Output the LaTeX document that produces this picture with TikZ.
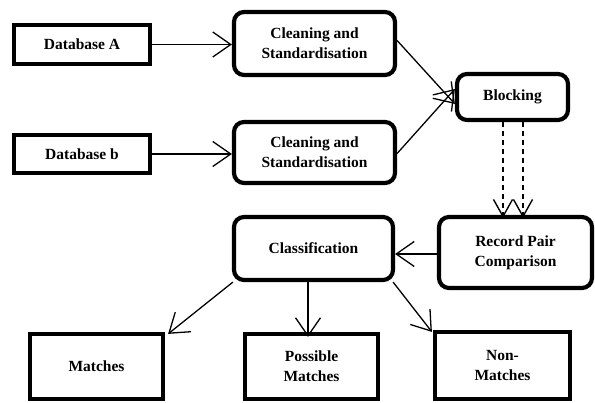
\documentclass[tikz,border=0pt]{standalone}
\usepackage{fontspec}
\setmainfont{Liberation Serif}
\usetikzlibrary{arrows.meta,calc}

\tikzset{
  base/.style={draw=black, line width=4.2pt, align=center, inner sep=0pt,
    font=\fontsize{15.5}{20}\selectfont\bfseries},
  sqbox/.style={base, rectangle},
  rbox/.style={base, rectangle, rounded corners=10pt},
  link/.style={line width=1.3pt,
    -{Straight Barb[length=18pt,width=25pt,line width=1.3pt]}},
  dlink/.style={line width=1.4pt, dash pattern=on 5pt off 4pt,
    -{Straight Barb[length=17pt,width=19pt,line width=1.4pt]}}
}

\begin{document}
\begin{tikzpicture}[x=1pt,y=-1pt]
\useasboundingbox (0,0) rectangle (595,403);

% inputs
\node[sqbox, minimum width=136pt, minimum height=39pt] (dbA) at (82,44.5) {Database A};
\node[sqbox, minimum width=136pt, minimum height=38pt] (dbB) at (82,154) {Database b};

% cleaning
\node[rbox, minimum width=161pt, minimum height=63pt] (cleanA) at (314.5,43.5) {Cleaning and\\Standardisation};
\node[rbox, minimum width=161pt, minimum height=61pt] (cleanB) at (314.5,152.5) {Cleaning and\\Standardisation};

% blocking and comparison
\node[rbox, minimum width=111pt, minimum height=46pt] (block) at (512.5,97) {Blocking};
\node[rbox, minimum width=153pt, minimum height=71pt] (record) at (515.5,252.5) {Record Pair\\Comparison};

% classification
\node[rbox, minimum width=159pt, minimum height=63pt] (classif) at (313.5,248.5) {Classification};

% outcomes
\node[sqbox, minimum width=133pt, minimum height=65pt] (match) at (96.5,366.5) {Matches};
\node[sqbox, minimum width=133pt, minimum height=65pt] (poss) at (311.5,366.5) {Possible\\Matches};
\node[sqbox, minimum width=135pt, minimum height=67pt] (non) at (502.5,365.5) {Non-\\Matches};

% connectors
\draw[link] (dbA.east) -- (dbA.east -| cleanA.west);
\draw[link] (dbB.east) -- (dbB.east -| cleanB.west);
\draw[link] ([yshift=3pt]cleanA.east) -- ([yshift=-7pt]block.west);
\draw[link] ([yshift=-1pt]cleanB.east) -- ([yshift=8pt]block.west);
\draw[dlink] ([xshift=-9.5pt]block.south) -- ([xshift=-9.5pt,yshift=-3pt]block.south |- record.north);
\draw[dlink] ([xshift=10.5pt]block.south) -- ([xshift=10.5pt,yshift=-3pt]block.south |- record.north);
\draw[link] ([yshift=-1.5pt]record.west) -- ([yshift=-1.5pt]record.west -| classif.east);
\draw[link] ([xshift=1pt]classif.south west) -- ([xshift=3pt,yshift=-2pt]match.north east);
\draw[link] ([xshift=-5.5pt]classif.south) -- ([xshift=-5.5pt,yshift=-5pt]classif.south |- poss.north);
\draw[link] ([xshift=-2pt]classif.south east) -- ([xshift=-1pt,yshift=-2pt]non.north west);
\end{tikzpicture}
\end{document}
